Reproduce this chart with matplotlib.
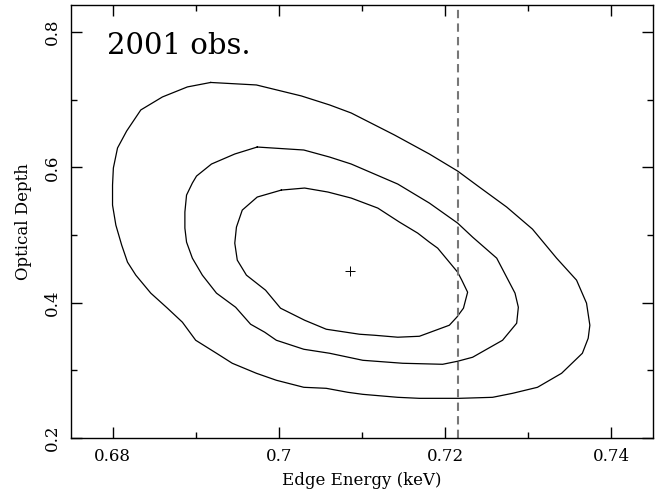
import numpy as np
import matplotlib
matplotlib.use("Agg")
import matplotlib.pyplot as plt
from matplotlib.ticker import MultipleLocator

plt.rcParams['font.family'] = ['DejaVu Serif']

# contour levels (edge energy keV, optical depth)
outer_e = [0.6918, 0.6973, 0.7027, 0.7061, 0.7087, 0.7139, 0.7181, 0.7215, 0.7241, 0.7274,
           0.7305, 0.7334, 0.7358, 0.7370, 0.7374, 0.7372, 0.7365, 0.7340, 0.7311, 0.7281,
           0.7257, 0.7217, 0.7169, 0.7143, 0.7101, 0.7083, 0.7057, 0.7030, 0.6997, 0.6973,
           0.6944, 0.6925, 0.6900, 0.6884, 0.6866, 0.6846, 0.6828, 0.6818, 0.6811, 0.6804,
           0.6800, 0.6800, 0.6801, 0.6806, 0.6817, 0.6834, 0.6860, 0.6890]
outer_t = [0.7254, 0.7217, 0.7055, 0.6922, 0.6803, 0.6478, 0.6197, 0.5945, 0.5709, 0.5413,
           0.5087, 0.4658, 0.4333, 0.3993, 0.3667, 0.3475, 0.3253, 0.2957, 0.2750, 0.2661,
           0.2602, 0.2587, 0.2587, 0.2602, 0.2646, 0.2676, 0.2735, 0.2750, 0.2854, 0.2957,
           0.3105, 0.3253, 0.3445, 0.3712, 0.3919, 0.4141, 0.4407, 0.4599, 0.4851, 0.5146,
           0.5442, 0.5738, 0.5990, 0.6286, 0.6537, 0.6848, 0.7040, 0.7188]

mid_e = [0.6974, 0.7030, 0.7061, 0.7087, 0.7143, 0.7181, 0.7215, 0.7233, 0.7262, 0.7284,
         0.7288, 0.7286, 0.7269, 0.7233, 0.7215, 0.7197, 0.7149, 0.7101, 0.7061, 0.7030,
         0.6997, 0.6983, 0.6966, 0.6948, 0.6925, 0.6908, 0.6896, 0.6889, 0.6887, 0.6887,
         0.6889, 0.6896, 0.6901, 0.6919, 0.6947]
mid_t = [0.6300, 0.6256, 0.6152, 0.6049, 0.5753, 0.5472, 0.5176, 0.4969, 0.4658, 0.4141,
         0.3933, 0.3697, 0.3445, 0.3194, 0.3135, 0.3090, 0.3105, 0.3149, 0.3253, 0.3312,
         0.3445, 0.3564, 0.3682, 0.3933, 0.4141, 0.4407, 0.4658, 0.4895, 0.5102, 0.5339,
         0.5590, 0.5768, 0.5871, 0.6049, 0.6197]

inner_e = [0.7003, 0.7031, 0.7059, 0.7087, 0.7119, 0.7145, 0.7167, 0.7181, 0.7191, 0.7215,
           0.7220, 0.7227, 0.7222, 0.7214, 0.7205, 0.7169, 0.7143, 0.7115, 0.7097, 0.7057,
           0.7031, 0.7002, 0.6989, 0.6984, 0.6961, 0.6950, 0.6947, 0.6949, 0.6956, 0.6974]
inner_t = [0.5664, 0.5694, 0.5635, 0.5546, 0.5398, 0.5191, 0.5028, 0.4895, 0.4806, 0.4451,
           0.4333, 0.4155, 0.3919, 0.3786, 0.3667, 0.3504, 0.3490, 0.3519, 0.3534, 0.3608,
           0.3741, 0.3919, 0.4111, 0.4185, 0.4407, 0.4629, 0.4880, 0.5117, 0.5368, 0.5561]

best_e, best_t = 0.7085, 0.4465
ref_e = 0.7215

fig = plt.figure(figsize=(6.57, 4.90), dpi=100)
ax = fig.add_axes([0.108, 0.106, 0.886, 0.884])

for ce, ct in [(outer_e, outer_t), (mid_e, mid_t), (inner_e, inner_t)]:
    ax.plot(ce + ce[:1], ct + ct[:1], color='black', lw=0.9)

ax.plot([best_e], [best_t], marker='+', color='black', ms=7, mew=0.7)
ax.axvline(ref_e, color='#777777', lw=1.5, ls=(0, (4, 2.5)))

ax.set_xlim(0.675, 0.745)
ax.set_ylim(0.2, 0.84)
ax.xaxis.set_minor_locator(MultipleLocator(0.01))
ax.yaxis.set_minor_locator(MultipleLocator(0.1))
ax.set_xticks([0.68, 0.70, 0.72, 0.74])
ax.set_xticklabels(['0.68', '0.7', '0.72', '0.74'])
ax.set_yticks([0.2, 0.4, 0.6, 0.8])
ax.set_yticklabels(['0.2', '0.4', '0.6', '0.8'], rotation=90, va='center')

ax.tick_params(which='both', direction='in', top=True, right=True, labelsize=12)
ax.tick_params(which='major', length=8, width=1, pad=7)
ax.tick_params(which='minor', length=4, width=1)
for s in ax.spines.values():
    s.set_linewidth(1.0)

ax.set_xlabel('Edge Energy (keV)', fontsize=12, labelpad=5)
ax.set_ylabel('Optical Depth', fontsize=12, labelpad=9)
ax.text(0.062, 0.905, '2001 obs.', transform=ax.transAxes, fontsize=21,
        va='center', ha='left')

fig.savefig('out.png', dpi=100)
